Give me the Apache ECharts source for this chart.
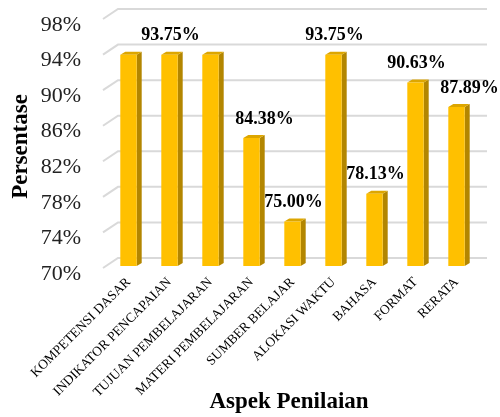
<!DOCTYPE html>
<html>
<head>
<meta charset="utf-8">
<script src="https://cdn.jsdelivr.net/npm/echarts@6/dist/echarts.min.js"></script>
<style>html,body{margin:0;padding:0;background:#fff}#chart{width:500px;height:417px}</style>
</head>
<body>
<div id="chart"></div>
<script>
const categories = ['KOMPETENSI DASAR','INDIKATOR PENCAPAIAN','TUJUAN PEMBELAJARAN','MATERI PEMBELAJARAN','SUMBER BELAJAR','ALOKASI WAKTU','BAHASA','FORMAT','RERATA'];
const values = [93.75, 93.75, 93.75, 84.38, 75.00, 93.75, 78.13, 90.63, 87.89];
const showLabel = [false, true, false, true, true, true, true, true, true];
const yTicks = [70, 74, 78, 82, 86, 90, 94, 98];

const FONT = "'Liberation Serif','Times New Roman',serif";
const labelNudge = {3: 12, 8: 12};

const chart = echarts.init(document.getElementById('chart'));

function renderGrid(params, api) {
  const cs = params.coordSys;
  const v = api.value(0);
  const y = api.coord([0, v])[1];
  const style = {stroke: '#D9D9D9', lineWidth: 2, fill: null};
  return {
    type: 'polyline',
    shape: {points: [[cs.x - 5, y + 2], [cs.x + 10, y - 8], [cs.x + cs.width + 10, y - 8]]},
    style: style,
    silent: true
  };
}

function renderBar(params, api) {
  const i = api.value(0);
  const v = api.value(1);
  const top = api.coord([i, v]);
  const base = api.coord([i, 70]);
  const band = api.size([1, 0])[0];
  const hw = band * 0.2;
  const dx = 5, dy = 3;
  const cx = top[0];
  const ty = top[1], by = base[1];
  const children = [
    {type: 'polygon', shape: {points: [[cx + hw, ty], [cx + hw + dx, ty - dy], [cx + hw + dx, by - dy], [cx + hw, by]]}, style: {fill: '#B38600'}},
    {type: 'polygon', shape: {points: [[cx - hw, ty], [cx - hw + dx, ty - dy], [cx + hw + dx, ty - dy], [cx + hw, ty]]}, style: {fill: '#DDA600'}},
    {type: 'rect', shape: {x: cx - hw, y: ty, width: hw * 2, height: by - ty}, style: {fill: '#FFC000'}}
  ];
  if (showLabel[i]) {
    children.push({
      type: 'text',
      x: cx + 1 + (labelNudge[i] || 0),
      y: ty - 19,
      style: {text: v.toFixed(2) + '%', font: 'bold 18px ' + FONT, fill: '#000', align: 'center', verticalAlign: 'middle'}
    });
  }
  return {type: 'group', children: children};
}

chart.setOption({
  animation: false,
  backgroundColor: '#fff',
  grid: {left: 108, right: 23, top: 17, bottom: 151, containLabel: false, outerBoundsMode: 'none'},
  xAxis: {
    type: 'category',
    data: categories,
    axisLine: {show: false},
    axisTick: {show: false},
    axisLabel: {rotate: 45, interval: 0, fontSize: 13.5, fontFamily: FONT, color: '#000', margin: 14},
    name: 'Aspek Penilaian',
    nameLocation: 'middle',
    nameGap: 125,
    nameMoveOverlap: false,
    nameTextStyle: {fontSize: 23, fontWeight: 'bold', fontFamily: FONT, color: '#000', padding: [0, 7, 0, 0]}
  },
  yAxis: {
    type: 'value',
    min: 70, max: 98, interval: 4,
    axisLine: {show: false},
    axisTick: {show: false},
    splitLine: {show: false},
    axisLabel: {fontSize: 22, fontFamily: FONT, color: '#222', margin: 27, verticalAlign: 'top', lineHeight: 16, formatter: '{value}%'},
    name: 'Persentase',
    nameLocation: 'middle',
    nameRotate: 90,
    nameGap: 75,
    nameMoveOverlap: false,
    nameTextStyle: {fontSize: 23, fontWeight: 'bold', fontFamily: FONT, color: '#000', padding: [0, 10, 0, 0]}
  },
  series: [
    {type: 'custom', renderItem: renderGrid, data: yTicks.map(t => [t]), encode: {y: 0}, silent: true, z: 1},
    {type: 'custom', renderItem: renderBar, data: values.map((v, i) => [i, v]), encode: {x: 0, y: 1}, z: 2}
  ]
});
</script>
</body>
</html>
